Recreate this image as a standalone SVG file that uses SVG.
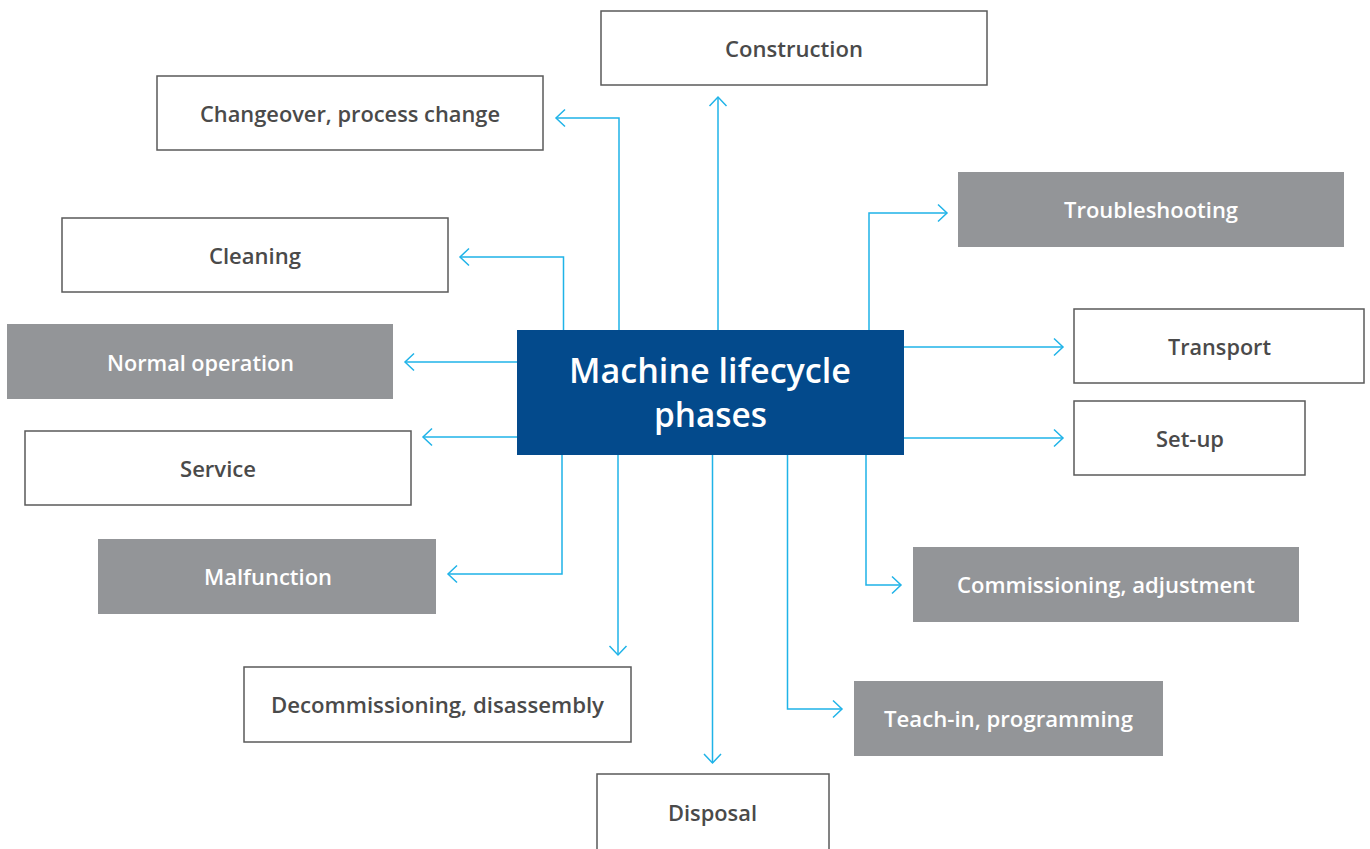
<svg xmlns="http://www.w3.org/2000/svg" width="1370" height="849" viewBox="0 0 1370 849">
<style>
.w rect{fill:#ffffff;stroke:#5a5a5a;stroke-width:1.5}
.g rect{fill:#939598;stroke:none}
text{font-family:"Open Sans","Noto Sans","Liberation Sans",sans-serif;font-weight:600;font-size:22px;text-anchor:middle}
.w text{fill:#4a4a4a}
.g text{fill:#ffffff}
.c{fill:none;stroke:#1fb3e8;stroke-width:1.5;marker-end:url(#ah)}
</style>
<defs>
<marker id="ah" markerUnits="userSpaceOnUse" markerWidth="24" markerHeight="24" viewBox="-12 -12 24 24" refX="0" refY="0" orient="auto" overflow="visible">
<path d="M-9,-8.5 L0,0 L-9,8.5" fill="none" stroke="#1fb3e8" stroke-width="1.5"/>
</marker>
</defs>
<rect width="1370" height="849" fill="#ffffff"/>
<g id="connectors">
<path class="c" d="M619,330 V118 H556"/>
<path class="c" d="M718,330 V97"/>
<path class="c" d="M869,330 V213 H947"/>
<path class="c" d="M563.5,330 V257 H460"/>
<path class="c" d="M517,362 H405"/>
<path class="c" d="M904,347 H1063"/>
<path class="c" d="M517,437 H423"/>
<path class="c" d="M904,438 H1063"/>
<path class="c" d="M562,455 V574 H448"/>
<path class="c" d="M866,455 V585 H901"/>
<path class="c" d="M618,455 V655"/>
<path class="c" d="M712.5,455 V763"/>
<path class="c" d="M787.5,455 V709 H842"/>
</g>
<g id="center">
<rect x="517" y="330" width="387" height="125" fill="#034a8c"/>
<text x="710" y="383" style="font-size:35px;font-weight:600" fill="#ffffff" textLength="282" lengthAdjust="spacingAndGlyphs">Machine lifecycle</text>
<text x="710.5" y="427" style="font-size:35px;font-weight:600" fill="#ffffff" textLength="113" lengthAdjust="spacingAndGlyphs">phases</text>
</g>
<g id="construction" class="w"><rect x="601" y="11" width="386" height="74"/><text x="794" y="56.5" textLength="138" lengthAdjust="spacingAndGlyphs">Construction</text></g>
<g id="changeover" class="w"><rect x="157" y="76" width="386" height="74"/><text x="350" y="121.5" textLength="300" lengthAdjust="spacingAndGlyphs">Changeover, process change</text></g>
<g id="troubleshooting" class="g"><rect x="958" y="172" width="386" height="75"/><text x="1151" y="218" textLength="174" lengthAdjust="spacingAndGlyphs">Troubleshooting</text></g>
<g id="cleaning" class="w"><rect x="62" y="218" width="386" height="74"/><text x="255" y="264" textLength="92" lengthAdjust="spacingAndGlyphs">Cleaning</text></g>
<g id="transport" class="w"><rect x="1074" y="309" width="290" height="74"/><text x="1219.5" y="355" textLength="103" lengthAdjust="spacingAndGlyphs">Transport</text></g>
<g id="normal-operation" class="g"><rect x="7" y="324" width="386" height="75"/><text x="200.5" y="370.5" textLength="187" lengthAdjust="spacingAndGlyphs">Normal operation</text></g>
<g id="set-up" class="w"><rect x="1074" y="401" width="231" height="74"/><text x="1190" y="446.5" textLength="68" lengthAdjust="spacingAndGlyphs">Set-up</text></g>
<g id="service" class="w"><rect x="25" y="431" width="386" height="74"/><text x="218" y="477" textLength="76" lengthAdjust="spacingAndGlyphs">Service</text></g>
<g id="malfunction" class="g"><rect x="98" y="539" width="338" height="75"/><text x="268" y="585" textLength="128" lengthAdjust="spacingAndGlyphs">Malfunction</text></g>
<g id="commissioning" class="g"><rect x="913" y="547" width="386" height="75"/><text x="1106" y="593" textLength="298" lengthAdjust="spacingAndGlyphs">Commissioning, adjustment</text></g>
<g id="decommissioning" class="w"><rect x="244" y="667" width="387" height="75"/><text x="437.5" y="713" textLength="333" lengthAdjust="spacingAndGlyphs">Decommissioning, disassembly</text></g>
<g id="teach-in" class="g"><rect x="854" y="681" width="309" height="75"/><text x="1008.5" y="727" textLength="249" lengthAdjust="spacingAndGlyphs">Teach-in, programming</text></g>
<g id="disposal" class="w"><rect x="597" y="774" width="232" height="76"/><text x="712.5" y="821" textLength="89" lengthAdjust="spacingAndGlyphs">Disposal</text></g>
</svg>
